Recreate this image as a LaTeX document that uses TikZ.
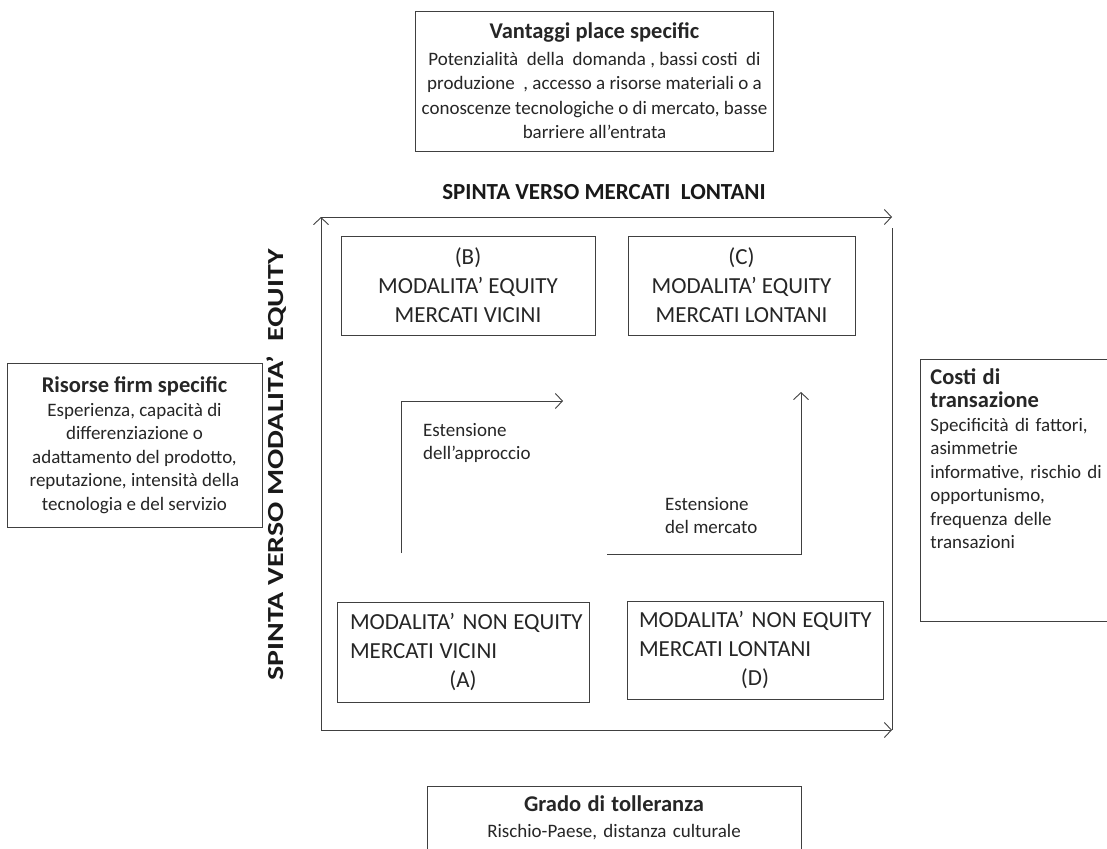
\documentclass[tikz,border=0pt]{standalone}
\usepackage{fontspec}
\setmainfont{Carlito}
\usetikzlibrary{arrows.meta}

\newcommand{\boxtitle}[1]{{\bfseries\fontsize{22.5}{23}\selectfont #1}}

\tikzset{
  infobox/.style={draw=black!75, line width=0.9pt, align=center, inner xsep=6pt, inner ysep=0pt,
    text=black!85, font=\fontsize{19}{23.5}\selectfont},
  quadbox/.style={draw=black!75, line width=0.9pt, align=center, inner sep=0pt,
    text=black!85, font=\fontsize{23}{29}\selectfont},
  axisline/.style={draw=black!75, line width=0.9pt},
  bigtitle/.style={text=black!90, font=\bfseries\fontsize{23}{28}\selectfont},
  steplabel/.style={align=left, inner sep=0pt, text=black!85, font=\fontsize{19}{23}\selectfont}
}

\begin{document}
\begin{tikzpicture}[x=1pt,y=-1pt,>={Straight Barb[length=7pt,width=15pt]}]
  \clip (0,0) rectangle (1107,848);
  \fill[white] (0,0) rectangle (1107,848);

% fattori esterni
  \node[infobox, minimum width=357, minimum height=140, font=\fontsize{19}{24.5}\selectfont] (place) at (594.5,81)
    {\boxtitle{Vantaggi place specific}\\[2pt]
     Potenzialità\ \ della\ \ domanda , bassi costi\ \ di\\
     produzione\ \ , accesso a risorse materiali o a\\
     conoscenze tecnologiche o di mercato, basse\\
     barriere\ all’entrata};

  \node[infobox, minimum width=255, minimum height=164] (firm) at (134.5,445)
    {\boxtitle{Risorse firm specific}\\
     Esperienza, capacità di\\
     differenziazione o\\
     adattamento\ del prodotto,\\
     reputazione,\ intensità della\\
     tecnologia e del servizio};

  \node[infobox, anchor=north west, align=left, text width=175, inner xsep=10pt, inner ysep=9pt] (costi) at (920,359)
    {\boxtitle{Costi di}\\
     \boxtitle{transazione}\\
     Specificità di fattori,\\
     asimmetrie\\
     informative, rischio di\\
     opportunismo,\\
     frequenza\ delle\\
     transazioni\\[40pt]\mbox{}};

  \node[infobox, anchor=north, text width=354, inner xsep=10pt, inner ysep=9pt] (tolleranza) at (614,786)
    {\boxtitle{Grado di tolleranza}\\[3pt]
     Rischio-Paese, distanza culturale\\[20pt]\mbox{}};

% assi
  \node[bigtitle] (spintamerc) at (604,192) {SPINTA VERSO MERCATI\ \ LONTANI};
  \node[bigtitle, rotate=90, xscale=1.3] (spintaeq) at (277,465) {SPINTA VERSO MODALITA’\ \ EQUITY};

  \coordinate (bl) at (321,730);
  \coordinate (tl) at (321,217);
  \coordinate (tr) at (892,217);
  \coordinate (br) at (892,730);
  \draw[axisline, ->] (bl) -- (tl);
  \draw[axisline, ->] (tl) -- (tr);
  \draw[axisline, ->] (bl) -- (br);
  \draw[axisline] ([yshift=-11pt]tr) -- (br);

% quadranti
  \node[quadbox, minimum width=254, minimum height=99] (eqvic) at (468,285.5)
    {(B)\\MODALITA’ EQUITY\\MERCATI VICINI};
  \node[quadbox, minimum width=227, minimum height=99] (eqlon) at (741.5,285.5)
    {(C)\\MODALITA’ EQUITY\\MERCATI LONTANI};
  \node[quadbox, align=left, text width=226, inner xsep=13pt, minimum height=100] (noneqvic) at (463,652)
    {\mbox{MODALITA’ NON\kern-2pt\ EQUITY}\\\mbox{MERCATI\kern-2pt\ VICINI}\\\mbox{}\hfill(A)\hfill\mbox{}};
  \node[quadbox, align=left, text width=232, inner xsep=12pt, minimum height=98] (noneqlon) at (755,650)
    {\mbox{MODALITA’ NON\kern-2pt\ EQUITY}\\\mbox{MERCATI\kern-2pt\ LONTANI}\\\mbox{}\hfill(D)\hfill\mbox{}};

% percorsi di estensione
  \coordinate (apprS) at (401,553);
  \coordinate (apprE) at (563,401);
  \coordinate (mercS) at (607,554);
  \coordinate (mercE) at (801,392);
  \draw[axisline, ->] (apprS) |- (apprE);
  \draw[axisline, ->] (mercS) -| (mercE);

  \node[steplabel, anchor=north west] (approccio) at (423,423) {Estensione\\dell’approccio};
  \node[steplabel, anchor=north west] (mercato) at (665,497) {Estensione\\del mercato};
\end{tikzpicture}
\end{document}
